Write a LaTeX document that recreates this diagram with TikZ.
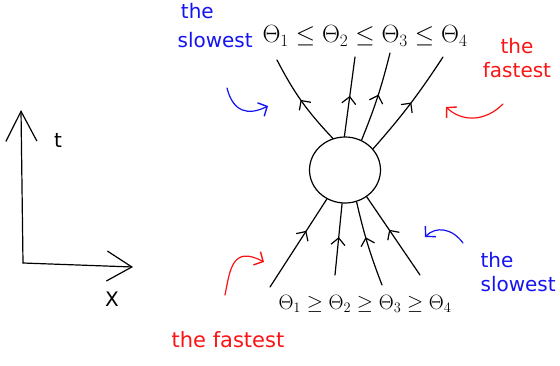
\documentclass[tikz,border=0pt]{standalone}
\usepackage{fontspec}
\setmainfont{DejaVu Sans}
\usetikzlibrary{arrows.meta,decorations.markings,shapes.geometric}
\definecolor{hblue}{RGB}{20,20,240}
\definecolor{hred}{RGB}{250,20,20}
\begin{document}
\begin{tikzpicture}[x=1pt,y=-1pt,line width=1.2pt,line cap=round,line join=round,
  flow/.style={postaction={decorate},decoration={markings,
    mark=at position #1 with {\arrow{Straight Barb[length=7pt,width=14pt,line width=1.2pt]}}}},
  flow/.default=0.5,
  hand/.style={-{Straight Barb[length=7pt,width=15pt,line width=1.4pt]}},
  axisv/.style={-{Straight Barb[length=30pt,width=31pt,line width=1.2pt]}},
  axish/.style={-{Straight Barb[length=25pt,width=30pt,line width=1.2pt]}},
  lbl/.style={inner sep=0pt,font=\fontsize{20}{22}\selectfont},
  theta/.style={inner sep=0pt}]
\useasboundingbox (0,0) rectangle (560,365);
\fill[white] (0,0) rectangle (560,365);

% axes
\coordinate (o) at (23,263);
\coordinate (ty) at (21,110);
\coordinate (tx) at (133,267);
\draw[axisv] (o) -- (ty);
\draw[axish] (o) -- (tx);
\node[lbl] (tl) at (58,140) {t};
\node[lbl] (xl) at (112,299) {X};

% central blob
\node[draw,ellipse,minimum width=71pt,minimum height=66pt,inner sep=0pt] (c) at (345,170) {};

% top ends
\coordinate (t1) at (277,60);
\coordinate (t2) at (355,57);
\coordinate (t3) at (390,53);
\coordinate (t4) at (443,57);
\draw[flow=0.52] (c.111) to[bend left=8] (t1);
\draw[flow=0.51] (c.91) -- (t2);
\draw[flow=0.53] (c.61) to[bend right=4] (t3);
\draw[flow=0.52] (c.37) to[bend right=4] (t4);

% bottom ends
\coordinate (b1) at (270,287);
\coordinate (b2) at (335,275);
\coordinate (b3) at (382,285);
\coordinate (b4) at (420,275);
\draw[flow=0.64] (b1) -- (c.238);
\draw[flow=0.53] (b2) -- (c.265);
\draw[flow=0.58] (b3) to[bend left=4] (c.290);
\draw[flow=0.58] (b4) -- (c.309);

% theta labels
\node[theta,font=\fontsize{23}{25}\selectfont] (ttop) at (365,36)
  {$\Theta_1 \leq \Theta_2 \leq \Theta_3 \leq \Theta_4$};
\node[theta,font=\fontsize{20}{22}\selectfont] (tbot) at (365,304)
  {$\Theta_1 \geq \Theta_2 \geq \Theta_3 \geq \Theta_4$};

% annotations
\node[lbl,text=hblue,align=left,anchor=north west] (s1) at (177,3) {\,the\\[7pt]slowest};
\node[lbl,text=hred,align=center,anchor=north] (f1) at (517,38) {the\\[2pt]fastest};
\node[lbl,text=hblue,align=left,anchor=north west] (s2) at (480,252) {the\\[2pt]slowest};
\node[lbl,text=hred,font=\fontsize{21}{23}\selectfont] (f2) at (228,340) {the fastest};

% curly hint arrows
\coordinate (a1s) at (227,88);
\coordinate (a1e) at (268,106);
\draw[hblue,hand] (a1s) .. controls (233,112) and (248,116) .. (a1e);
\coordinate (a2s) at (503,104);
\coordinate (a2e) at (446,107);
\draw[hred,hand] (a2s) .. controls (485,122) and (462,122) .. (a2e);
\coordinate (a3s) at (463,243);
\coordinate (a3e) at (425,237);
\draw[hblue,hand] (a3s) .. controls (452,228) and (436,226) .. (a3e);
\coordinate (a4s) at (225,295);
\coordinate (a4e) at (264,262);
\draw[hred,hand] (a4s) .. controls (230,270) and (232,245) .. (a4e);
\end{tikzpicture}
\end{document}
